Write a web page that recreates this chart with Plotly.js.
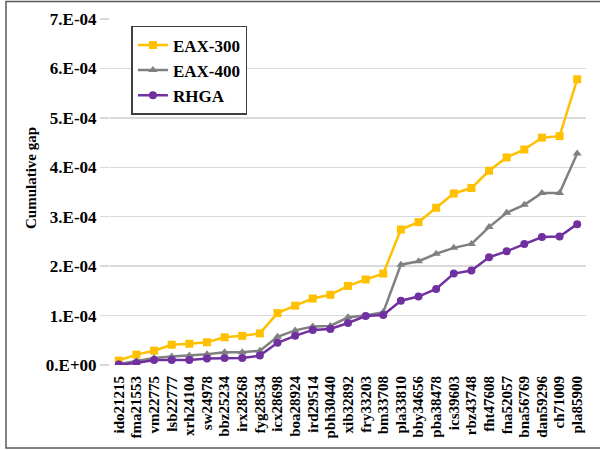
<!DOCTYPE html>
<html>
<head>
<meta charset="utf-8">
<script src="https://cdn.plot.ly/plotly-3.0.1.min.js"></script>
<style>html,body{margin:0;padding:0;background:#fff;}#chart{width:600px;height:450px;}</style>
</head>
<body>
<div id="chart"></div>
<script>
const instances = ["ido21215","fma21553","vm22775","lsb22777","xrh24104","sw24978","bbz25234","irx28268","fyg28534","icx28698","boa28924","ird29514","pbh30440","xib32892","fry33203","bm33708","pla33810","bby34656","pba38478","ics39603","rbz43748","fht47608","fna52057","bna56769","dan59296","ch71009","pla85900"];
const eax300 = [0.09,0.21,0.29,0.41,0.43,0.46,0.56,0.59,0.64,1.05,1.20,1.345,1.42,1.60,1.73,1.85,2.74,2.89,3.18,3.47,3.58,3.93,4.20,4.36,4.60,4.63,5.78].map(v=>v*1e-4);
const eax400 = [0.02,0.08,0.14,0.17,0.19,0.22,0.26,0.26,0.29,0.57,0.70,0.78,0.79,0.965,1.00,1.07,2.03,2.10,2.25,2.37,2.45,2.79,3.08,3.24,3.48,3.48,4.28].map(v=>v*1e-4);
const rhga = [0.01,0.04,0.10,0.10,0.10,0.13,0.14,0.14,0.19,0.45,0.59,0.71,0.73,0.85,0.99,1.01,1.30,1.385,1.54,1.85,1.91,2.18,2.30,2.45,2.59,2.60,2.85].map(v=>v*1e-4);
const yTickVals = [0,1e-4,2e-4,3e-4,4e-4,5e-4,6e-4,7e-4];
const yTickText = ["0.E+00","1.E-04","2.E-04","3.E-04","4.E-04","5.E-04","6.E-04","7.E-04"];

const FONT = '"Liberation Serif", "Times New Roman", serif';
const bold = s => '<b>' + s + '</b>';
const traces = [
  {x: instances, y: eax300, name: bold('EAX-300'), type: 'scatter', mode: 'lines+markers',
   line: {color: '#FFC000', width: 2.5}, marker: {symbol: 'square', size: 8, color: '#FFC000'}},
  {x: instances, y: eax400, name: bold('EAX-400'), type: 'scatter', mode: 'lines+markers',
   line: {color: '#808080', width: 2.5}, marker: {symbol: 'triangle-up', size: 8, color: '#808080'}},
  {x: instances, y: rhga, name: bold('RHGA'), type: 'scatter', mode: 'lines+markers',
   line: {color: '#7030A0', width: 2.5}, marker: {symbol: 'circle', size: 8, color: '#7030A0'}}
];
const layout = {
  width: 600, height: 450,
  margin: {l: 110, r: 14, t: 19, b: 85},
  paper_bgcolor: '#fff', plot_bgcolor: '#fff',
  font: {family: FONT, color: '#000', size: 15},
  showlegend: true,
  legend: {x: 0.045, y: 0.98, xanchor: 'left', yanchor: 'top', bgcolor: '#fff',
    bordercolor: '#404040', borderwidth: 1.5, font: {family: FONT, size: 17, color: '#000'},
    tracegroupgap: 0},
  xaxis: {type: 'category', range: [-0.5, 26.5], tickangle: -90, showgrid: false,
    tickmode: 'array', tickvals: instances, ticktext: instances.map(bold),
    zeroline: false, showline: false, ticks: 'outside', ticklen: 4, tickcolor: 'rgba(0,0,0,0)',
    tickfont: {family: FONT, size: 15, color: '#000'}},
  yaxis: {range: [0, 7e-4], tickvals: yTickVals, ticktext: yTickText.map(bold), showgrid: true,
    gridcolor: '#d9d9d9', gridwidth: 1.5, zeroline: false, showline: false,
    ticks: 'outside', ticklen: 9, tickcolor: '#d9d9d9', tickwidth: 1.5,
    tickfont: {family: FONT, size: 17, color: '#000'}},
  annotations: [{text: bold('Cumulative gap'), xref: 'paper', yref: 'paper',
    x: (31 - 110) / 476, y: (365 - 178) / 346, xanchor: 'center', yanchor: 'middle',
    textangle: -90, showarrow: false, font: {family: FONT, size: 15, color: '#000'}}],
  shapes: [{type: 'rect', xref: 'paper', yref: 'paper',
    x0: (6 - 110) / 476, x1: 1.2, y0: (365 - 448) / 346, y1: (365 - 1.5) / 346,
    line: {color: '#595959', width: 1.5}, fillcolor: 'rgba(0,0,0,0)', layer: 'below'}]
};
Plotly.newPlot('chart', traces, layout, {displayModeBar: false, staticPlot: true});
</script>
</body>
</html>
